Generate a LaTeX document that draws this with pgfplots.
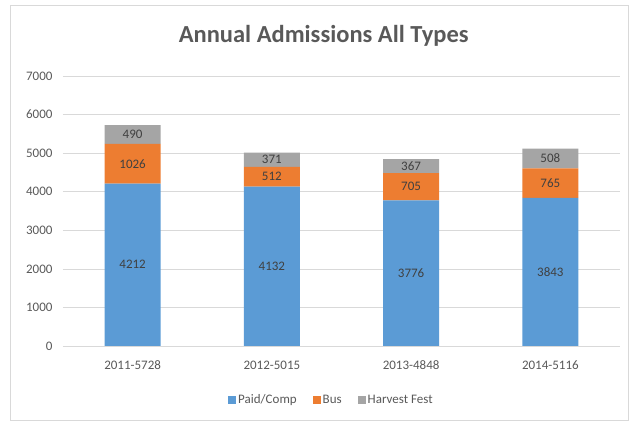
\documentclass[border=0pt]{standalone}
\usepackage{pgfplots}
\pgfplotsset{compat=1.18}
\usepackage{fontspec}
\setmainfont{Carlito}
\definecolor{cblue}{HTML}{5B9BD5}
\definecolor{corange}{HTML}{ED7D31}
\definecolor{cgray}{HTML}{A5A5A5}
\definecolor{txt}{HTML}{595959}
\definecolor{lbl}{HTML}{404040}
\definecolor{gridc}{HTML}{D9D9D9}
\begin{document}
\begin{tikzpicture}
\useasboundingbox (-63pt,-77pt) rectangle (570pt,346pt);
\draw[gridc, line width=0.8pt] (-53pt,-74pt) rectangle (565pt,341pt);
\begin{axis}[
  at={(0pt,0pt)}, anchor=south west,
  scale only axis, width=557pt, height=270pt,
  ybar stacked, bar width=56pt,
  xmin=-0.5, xmax=3.5, ymin=0, ymax=7000,
  xtick=data, xticklabels={2011-5728,2012-5015,2013-4848,2014-5116},
  ytick={0,1000,...,7000},
  ymajorgrids, grid style={gridc, line width=0.6pt},
  axis x line*=bottom, axis y line*=left,
  y axis line style={draw=none},
  x axis line style={gridc, line width=0.8pt},
  major tick length=0pt,
  tick label style={font=\fontsize{13}{15}\selectfont, text=txt},
  xticklabel style={anchor=base, yshift=-24pt},
  yticklabel style={anchor=east, xshift=-7pt},
  /pgf/number format/assume math mode=true,
  /pgf/number format/set thousands separator={},
  title={Annual Admissions All Types},
  title style={at={(0.468,1.126)}, anchor=center, font=\fontsize{24.5}{28}\bfseries\selectfont, text=txt},
  legend style={at={(0.482,-0.2)}, anchor=center, draw=none, legend columns=3,
    font=\fontsize{13}{15}\selectfont, text=txt,
    /tikz/every even column/.append style={column sep=14pt}},
  legend image code/.code={\fill[#1] (0pt,-4pt) rectangle (8pt,4pt);},
  point meta=explicit,
  nodes near coords={\pgfmathprintnumber[assume math mode=true,set thousands separator={}]{\pgfplotspointmeta}},
  every node near coord/.append style={anchor=center, font=\fontsize{13}{15}\selectfont, text=lbl},
]
\addplot[fill=cblue, draw=none] table[x=x, y=y, meta=y] {
x y
0 4212
1 4132
2 3776
3 3843
};
\addplot[fill=corange, draw=none] table[x=x, y=y, meta=y] {
x y
0 1026
1 512
2 705
3 765
};
\addplot[fill=cgray, draw=none] table[x=x, y=y, meta=y] {
x y
0 490
1 371
2 367
3 508
};
\legend{Paid/Comp, Bus, Harvest Fest}
\end{axis}
\end{tikzpicture}
\end{document}
